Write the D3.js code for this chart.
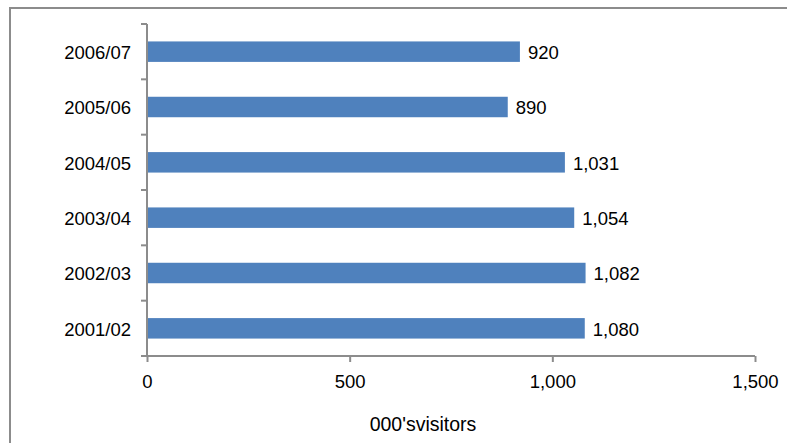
<!DOCTYPE html>
<html>
<head>
<meta charset="utf-8">
<script src="https://cdn.jsdelivr.net/npm/d3@7"></script>
<style>
  html, body { margin: 0; padding: 0; background: #fff; }
  svg { display: block; font-family: "Liberation Sans", Arial, sans-serif; }
</style>
</head>
<body>
<svg id="chart" width="787" height="443"></svg>
<script>
// Visitor numbers by financial year (thousands)
const years = ["2006/07", "2005/06", "2004/05", "2003/04", "2002/03", "2001/02"];
const visitors = [920, 890, 1031, 1054, 1082, 1080];
const xTicks = [0, 500, 1000, 1500];
const xTitle = "000'svisitors";

const svg = d3.select("#chart");
const fmt = d3.format(",");
const fontSize = 18.5;

// Outer frame
svg.append("rect")
  .attr("x", 10).attr("y", 8)
  .attr("width", 800).attr("height", 460)
  .attr("fill", "none")
  .attr("stroke", "#8c8c8c")
  .attr("stroke-width", 2);

const plotLeft = 147, plotRight = 755, plotTop = 24, plotBottom = 356;

const x = d3.scaleLinear().domain([0, 1500]).range([plotLeft, plotRight]);
const y = d3.scaleBand().domain(years).range([plotTop, plotBottom]).paddingInner(0.63).paddingOuter(0.315);

// Bars
svg.append("g").selectAll("rect")
  .data(years)
  .join("rect")
  .attr("x", x(0))
  .attr("y", d => y(d))
  .attr("width", (d, i) => x(visitors[i]) - x(0))
  .attr("height", y.bandwidth())
  .attr("fill", "#4f81bd");

// Value labels
svg.append("g").selectAll("text")
  .data(years)
  .join("text")
  .attr("x", (d, i) => x(visitors[i]) + 8)
  .attr("y", d => y(d) + y.bandwidth() / 2 + 1)
  .attr("dy", "0.35em")
  .attr("font-size", fontSize)
  .attr("fill", "#000")
  .text((d, i) => fmt(visitors[i]));

// Category axis: tick marks sit on band boundaries
const yAxis = svg.append("g");
yAxis.append("line")
  .attr("x1", plotLeft).attr("x2", plotLeft)
  .attr("y1", plotTop).attr("y2", plotBottom)
  .attr("stroke", "#8c8c8c").attr("stroke-width", 2);
const bandStep = (plotBottom - plotTop) / years.length;
yAxis.selectAll("line.tick")
  .data(d3.range(years.length + 1))
  .join("line")
  .attr("class", "tick")
  .attr("x1", plotLeft - 6).attr("x2", plotLeft)
  .attr("y1", i => plotTop + i * bandStep)
  .attr("y2", i => plotTop + i * bandStep)
  .attr("stroke", "#8c8c8c").attr("stroke-width", 2);
yAxis.selectAll("text")
  .data(years)
  .join("text")
  .attr("x", plotLeft - 16)
  .attr("y", d => y(d) + y.bandwidth() / 2 + 1)
  .attr("dy", "0.35em")
  .attr("text-anchor", "end")
  .attr("font-size", fontSize)
  .text(d => d);

// Value axis
const xAxis = svg.append("g").attr("transform", `translate(0,${plotBottom})`)
  .call(d3.axisBottom(x).tickValues(xTicks).tickFormat(fmt).tickSize(6).tickPadding(13));
xAxis.select(".domain").attr("stroke", "#8c8c8c").attr("stroke-width", 2)
  .attr("d", `M${plotLeft},0H${plotRight}`);
xAxis.selectAll(".tick line").attr("stroke", "#8c8c8c").attr("stroke-width", 2);
xAxis.selectAll(".tick text").attr("font-size", fontSize).attr("fill", "#000")
  .attr("font-family", "Liberation Sans, Arial, sans-serif");

// Axis title
svg.append("text")
  .attr("x", 423).attr("y", 431)
  .attr("text-anchor", "middle")
  .attr("font-size", 19.5)
  .text(xTitle);
</script>
</body>
</html>
